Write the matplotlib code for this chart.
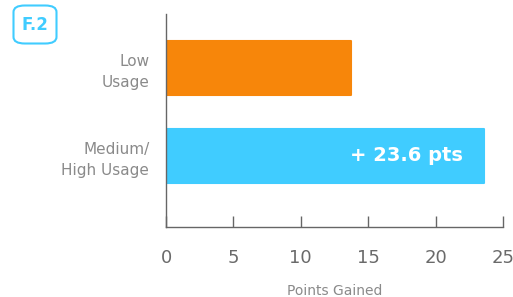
import matplotlib
matplotlib.use("Agg")
import matplotlib.pyplot as plt
from matplotlib.patches import FancyBboxPatch

categories = ["Low\nUsage", "Medium/\nHigh Usage"]
values = [13.7, 23.6]
colors = ["#F7860A", "#40CCFF"]
xticks = [0, 5, 10, 15, 20, 25]
bar_label = "+ 23.6 pts"
badge = "F.2"
xlabel = "Points Gained"

plt.rcParams['font.family'] = ['DejaVu Sans']
gray = "#8a8a8a"
spine = "#666666"

fig = plt.figure(figsize=(5.13, 2.97), dpi=100)
ax = fig.add_axes([0.3236, 0.2357, 0.6569, 0.7173])

pos = list(range(len(categories)))
bars = ax.barh(pos, values, height=0.61, color=colors, edgecolor=colors,
               linewidth=1.5, joinstyle='round')
ax.set_ylim(1.81, -0.61)
ax.set_xlim(0, 25)
ax.set_yticks(pos)
ax.set_yticklabels(categories, fontsize=11, color=gray, linespacing=1.5)
ax.set_xticks(xticks)
ax.set_xticklabels([str(t) for t in xticks], fontsize=13, color="#6a6a6a")
ax.tick_params(axis='y', length=0, pad=12)
ax.tick_params(axis='x', direction='in', length=8, width=1, color=spine, pad=16)
for s in ['top', 'right']:
    ax.spines[s].set_visible(False)
for s in ['left', 'bottom']:
    ax.spines[s].set_color(spine)
    ax.spines[s].set_linewidth(1)
ax.set_xlabel(xlabel, fontsize=10, color=gray, labelpad=12)

ax.text(values[1] - 1.6, pos[1], bar_label, ha='right', va='center',
        fontsize=14, fontweight='bold', color='white')

# badge
bx = FancyBboxPatch((13.5 / 513, 1 - 43.5 / 297), 43 / 513, 38 / 297,
                    boxstyle="round,pad=0,rounding_size=0.022",
                    transform=fig.transFigure, facecolor='white',
                    edgecolor="#40CCFF", linewidth=1.5)
fig.patches.append(bx)
fig.text(35 / 513, 1 - 25 / 297, badge, ha='center', va='center',
         fontsize=12, fontweight='bold', color="#40CCFF")

fig.savefig("out.png", dpi=100)
